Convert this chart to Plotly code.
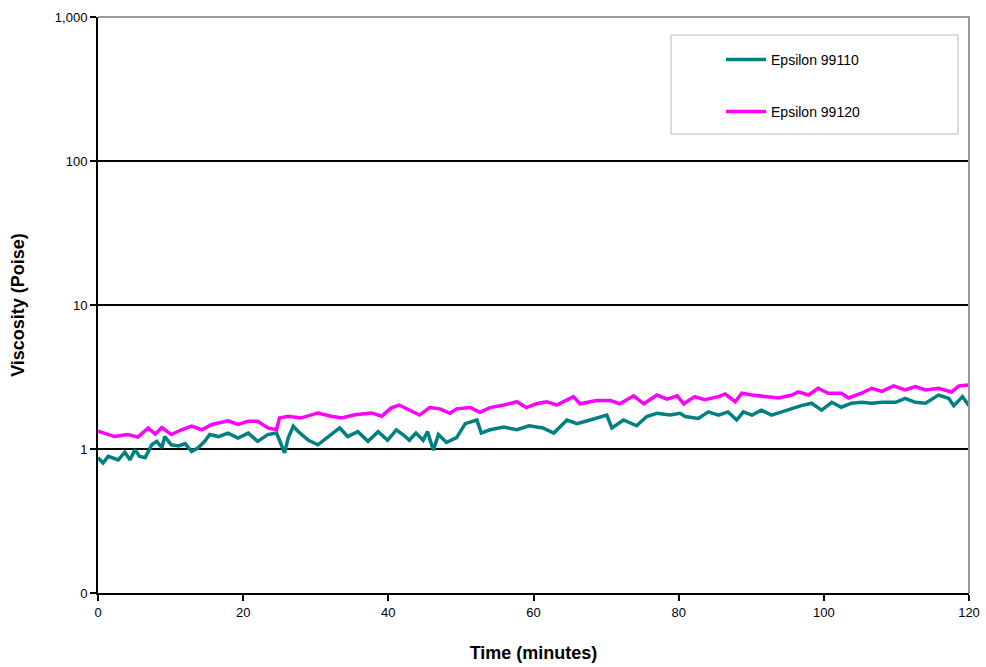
import plotly.graph_objects as go

# Epsilon 99110 (teal)
t1 = [0, 0.7, 1.4, 2.8, 3.7, 4.4, 5.1, 5.7, 6.5, 7.4, 8.1, 8.8, 9.2, 10.1, 11.1, 12.0, 12.9, 13.8,
      14.7, 15.4, 16.6, 17.9, 19.3, 20.7, 22.0, 23.4, 24.6, 25.7, 26.2, 26.9, 27.6, 29.0, 30.3, 31.7,
      33.3, 34.4, 35.8, 37.2, 38.6, 39.9, 41.1, 42.0, 42.9, 43.8, 44.8, 45.4, 46.2, 46.9, 48.0, 49.4,
      50.6, 52.2, 52.8, 54.0, 55.9, 57.7, 59.4, 61.3, 62.8, 64.6, 66.0, 67.8, 70.1, 70.8, 72.4, 74.2,
      75.6, 77.0, 78.8, 80.2, 80.9, 82.7, 84.1, 85.5, 86.8, 88.0, 88.9, 90.1, 91.4, 92.8, 94.2, 95.6,
      96.9, 98.3, 99.7, 101.1, 102.4, 103.8, 105.2, 106.6, 108.0, 109.9, 111.2, 112.6, 114.0, 115.8,
      117.2, 117.9, 119.1, 120.0]
v1 = [0.87, 0.80, 0.89, 0.84, 0.95, 0.84, 0.99, 0.89, 0.87, 1.07, 1.13, 1.02, 1.22, 1.07, 1.05, 1.09, 0.96, 1.02,
      1.13, 1.26, 1.22, 1.29, 1.19, 1.29, 1.13, 1.26, 1.29, 0.94, 1.19, 1.44, 1.32, 1.15, 1.07, 1.22,
      1.40, 1.22, 1.32, 1.13, 1.32, 1.15, 1.36, 1.26, 1.15, 1.29, 1.15, 1.32, 0.98, 1.26, 1.11, 1.20,
      1.50, 1.59, 1.29, 1.36, 1.42, 1.36, 1.45, 1.40, 1.29, 1.59, 1.50, 1.59, 1.72, 1.40, 1.59, 1.45,
      1.68, 1.77, 1.72, 1.77, 1.68, 1.63, 1.81, 1.72, 1.81, 1.59, 1.81, 1.72, 1.86, 1.72, 1.81, 1.92,
      2.00, 2.08, 1.86, 2.11, 1.95, 2.08, 2.11, 2.08, 2.11, 2.11, 2.25, 2.11, 2.08, 2.37,
      2.25, 2.00, 2.31, 2.00]

# Epsilon 99120 (magenta)
t2 = [0, 2.3, 4.1, 5.5, 6.9, 7.9, 8.8, 10.1, 11.5, 12.9, 14.3, 15.7, 17.9, 19.3, 20.7, 22.0, 23.4,
      24.6, 25.0, 26.2, 27.9, 30.3, 32.1, 33.6, 35.4, 37.7, 39.1, 40.4, 41.5, 42.9, 44.3, 45.7, 47.1,
      48.5, 49.4, 51.3, 52.6, 54.0, 55.9, 57.7, 59.0, 60.4, 61.8, 63.2, 65.5, 66.4, 68.7, 70.6, 71.9,
      73.8, 75.2, 77.0, 78.4, 79.8, 80.7, 82.2, 83.6, 85.5, 86.4, 87.8, 88.7, 90.1, 91.9, 93.8, 95.6,
      96.5, 97.9, 99.2, 100.6, 102.4, 103.4, 105.2, 106.6, 108.0, 109.6, 111.2, 112.6, 114.0, 115.8,
      117.6, 118.6, 120.0]
v2 = [1.33, 1.22, 1.26, 1.21, 1.40, 1.27, 1.41, 1.26, 1.36, 1.44, 1.36, 1.48, 1.57, 1.48, 1.56, 1.56, 1.40,
      1.36, 1.64, 1.69, 1.64, 1.78, 1.69, 1.64, 1.73, 1.78, 1.69, 1.93, 2.02, 1.87, 1.72, 1.94, 1.90,
      1.77, 1.90, 1.94, 1.80, 1.94, 2.02, 2.13, 1.94, 2.06, 2.13, 2.02, 2.31, 2.06, 2.17, 2.17, 2.06,
      2.34, 2.06, 2.37, 2.22, 2.34, 2.06, 2.31, 2.20, 2.31, 2.41, 2.13, 2.44, 2.37, 2.31, 2.26, 2.37,
      2.49, 2.37, 2.64, 2.44, 2.44, 2.26, 2.44, 2.64, 2.51, 2.74, 2.57, 2.71, 2.57, 2.64,
      2.49, 2.74, 2.78]

y_tickvals = [0.1, 1, 10, 100, 1000]
y_ticktext = ["0", "1", "10", "100", "1,000"]
x_tickvals = [0, 20, 40, 60, 80, 100, 120]

FONT = "Liberation Sans, Arial, sans-serif"

fig = go.Figure()
fig.add_trace(go.Scatter(x=t1, y=v1, mode="lines", name="Epsilon 99110",
                         line=dict(color="#008080", width=3.5), legendgroup="a"))
fig.add_trace(go.Scatter(x=t2, y=v2, mode="lines", name="Epsilon 99120",
                         line=dict(color="#FF00FF", width=3.5), legendgroup="b"))

fig.update_layout(
    width=986, height=667,
    margin=dict(l=98, r=17, t=17, b=74),
    paper_bgcolor="white", plot_bgcolor="white",
    font=dict(family=FONT, color="black", size=12),
    showlegend=True,
    legend=dict(x=0.7153, y=0.9535, xanchor="left", yanchor="top",
                bgcolor="rgba(0,0,0,0)", borderwidth=0,
                font=dict(size=14, family=FONT), traceorder="grouped",
                tracegroupgap=31, itemwidth=40),
    shapes=[
        dict(type="path", xref="paper", yref="paper",
             path="M 0 1 L 1 1 L 1 0", line=dict(color="#999999", width=2)),
        dict(type="rect", xref="paper", yref="paper",
             x0=(671 - 98) / 871, x1=(958 - 98) / 871,
             y0=(593 - 134) / 576, y1=(593 - 35) / 576,
             line=dict(color="#d0d0d0", width=1.5), fillcolor="rgba(0,0,0,0)"),
    ],
)

fig.update_xaxes(range=[0, 120], tickvals=x_tickvals, showgrid=False, zeroline=False,
                 automargin=False,
                 showline=True, linecolor="black", linewidth=2,
                 ticks="outside", ticklen=6, tickwidth=1.5, tickcolor="black",
                 tickfont=dict(size=13, family=FONT),
                 title=dict(text="<b>Time (minutes)</b>", font=dict(size=18, family=FONT), standoff=28))
fig.update_yaxes(type="log", range=[-1, 3], tickvals=y_tickvals, ticktext=y_ticktext,
                 automargin=False,
                 showgrid=True, gridcolor="black", gridwidth=1.5, zeroline=False,
                 showline=True, linecolor="black", linewidth=2,
                 ticks="outside", ticklen=6, tickwidth=1.5, tickcolor="black",
                 tickfont=dict(size=13, family=FONT),
                 title=dict(text="<b>Viscosity (Poise)</b>", font=dict(size=18, family=FONT), standoff=26))

fig.write_html("out.html")
